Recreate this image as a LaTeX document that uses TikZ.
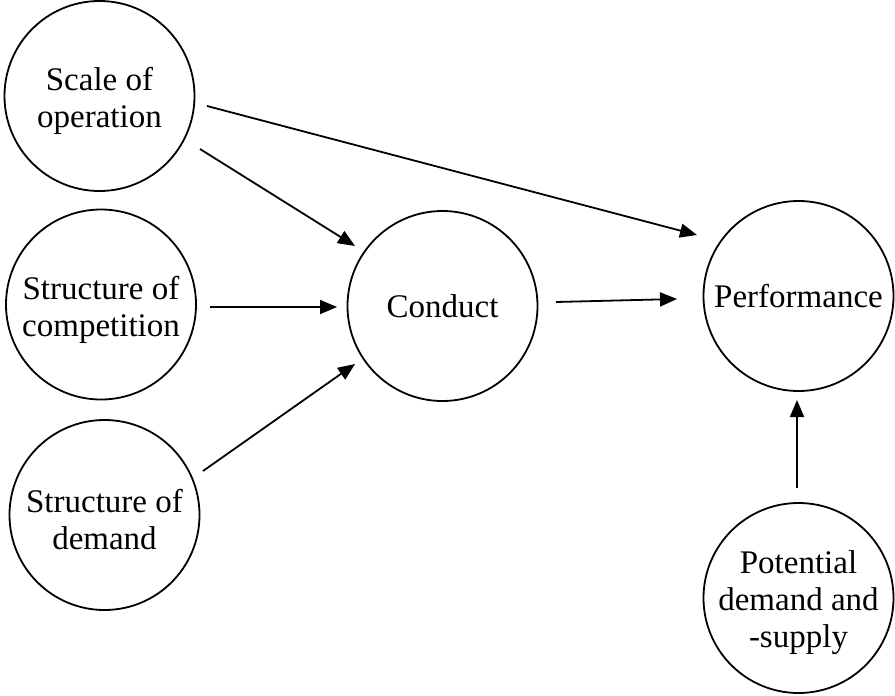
\documentclass[tikz,border=0pt]{standalone}
\usepackage{fontspec}
\setmainfont{Liberation Serif}
\usetikzlibrary{arrows.meta,calc}

\tikzset{
  factor/.style={circle, draw, line width=1.8pt, minimum size=190pt, inner sep=0pt,
                 align=center, font=\fontsize{33}{37}\selectfont},
  caption/.style={label={[align=center, font=\fontsize{33}{37}\selectfont, yshift=-5pt]center:#1}},
  arr/.style={line width=1.8pt, -{Triangle[length=17pt,width=14pt]}}
}

\begin{document}
\begin{tikzpicture}[x=1pt,y=-1pt]
  \useasboundingbox (0,0) rectangle (895,696);

  % factors
  \node[factor, caption={Scale of\\operation}]        (scale)   at (99.5,96)   {};
  \node[factor, caption={Structure of\\competition}]  (comp)    at (101,304.5) {};
  \node[factor, caption={Structure of\\demand}]       (demand)  at (104.5,515) {};
  \node[factor]                                       (conduct) at (442.5,306) {Conduct};
  \node[factor]                                       (perf)    at (798.5,296) {Performance};
  \node[factor, caption={Potential\\demand and\\-supply}] (pot) at (798.5,598) {};

  % influences
  \draw[arr] ($(scale)+(107.5,10)$) -- ($(perf)+(-101.5,-61)$);
  \draw[arr] ($(scale)+(100.5,53)$) -- ($(conduct)+(-87.5,-60)$);
  \draw[arr] ($(comp)+(109,2.5)$) -- ($(conduct)+(-105.5,1)$);
  \draw[arr] ($(demand)+(98.5,-44)$) -- ($(conduct)+(-87.5,58)$);
  \draw[arr] ($(conduct)+(113.5,-4)$) -- ($(perf)+(-121.5,3)$);
  \draw[arr] ($(pot)+(-1.5,-110)$) -- ($(perf)+(-1.5,104)$);
\end{tikzpicture}
\end{document}
